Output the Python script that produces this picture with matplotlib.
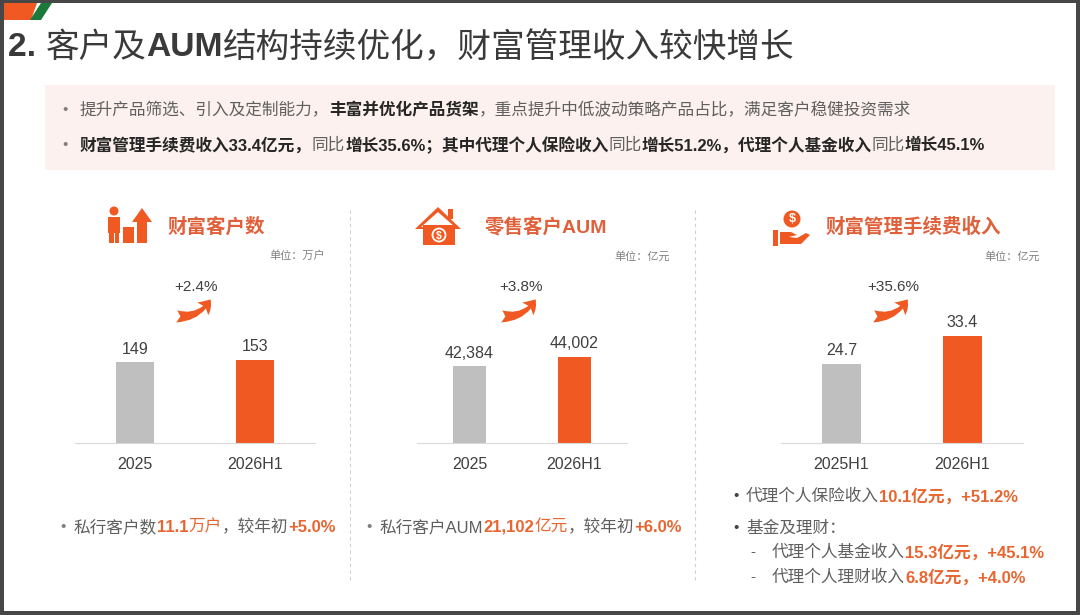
import numpy as np
import matplotlib
matplotlib.use("Agg")
import matplotlib.pyplot as plt
from matplotlib.patches import Rectangle, Polygon, Circle, FancyArrowPatch

plt.rcParams['font.family'] = ['Liberation Sans', 'Noto Sans CJK SC', 'DejaVu Sans']

# ---- data ----
cust_cats = ['2025', '2026H1']
cust_vals = [149, 153]
aum_cats = ['2025', '2026H1']
aum_vals = [42384, 44002]
fee_cats = ['2025H1', '2026H1']
fee_vals = [24.7, 33.4]
growth = ['+2.4%', '+3.8%', '+35.6%']
units = ['单位：万户', '单位：亿元', '单位：亿元']
titles = ['财富客户数', '零售客户AUM', '财富管理手续费收入']

W, H = 1080, 615
ORANGE = '#f05a22'
TORANGE = '#e8652f'
GRAY_BAR = '#bfbfbf'
TXT = '#404040'
SOFT = '#5f5f5f'
DARK = '#262626'

fig = plt.figure(figsize=(W / 100, H / 100), dpi=100, facecolor='#474747')
ax = fig.add_axes([0, 0, 1, 1])
ax.set_xlim(0, W)
ax.set_ylim(H, 0)
ax.axis('off')
r = fig.canvas.get_renderer()

# frame + logo
ax.add_patch(Rectangle((4, 3), 1072, 608, facecolor='white', edgecolor='none'))
ax.add_patch(Polygon([(4, 3), (37, 3), (31, 20), (4, 20)], closed=True, color=ORANGE, lw=0))
ax.add_patch(Polygon([(41, 3), (52, 3), (41, 20), (30, 20)], closed=True, color='#1a7a3c', lw=0))


def runs(x, y, parts, size):
    # draw a row of text pieces one after another
    for txt, color, weight in parts:
        t = ax.text(x, y, txt, color=color, fontsize=size, fontweight=weight,
                    ha='left', va='center')
        x += t.get_window_extent(renderer=r).width
    return x


# title
runs(8, 48, [('2. ', '#3a3a3a', 'bold'), ('客户及', '#3a3a3a', 'medium'),
             ('AUM', '#3a3a3a', 'bold'), ('结构持续优化，财富管理收入较快增长', '#3a3a3a', 'medium')], 24.2)

# pink box
ax.add_patch(Rectangle((45, 85), 1010, 85, facecolor='#fcf1ee', edgecolor='none'))
ax.text(62, 110, '•', color='#7f7f7f', fontsize=11, va='center')
runs(80, 110, [('提升产品筛选、引入及定制能力，', SOFT, 'normal'),
               ('丰富并优化产品货架', DARK, 'bold'),
               ('，重点提升中低波动策略产品占比，满足客户稳健投资需求', SOFT, 'normal')], 12)
ax.text(62, 145, '•', color='#7f7f7f', fontsize=11, va='center')
runs(80, 145, [('财富管理手续费收入33.4亿元，', DARK, 'bold'), ('同比', SOFT, 'normal'),
               ('增长35.6%；其中代理个人保险收入', DARK, 'bold'), ('同比', SOFT, 'normal'),
               ('增长51.2%，代理个人基金收入', DARK, 'bold'), ('同比', SOFT, 'normal'),
               ('增长45.1%', DARK, 'bold')], 12)

# dashed dividers
for xd in (350, 695):
    ax.plot([xd, xd], [210, 580], color='#d0d0d0', lw=0.8, ls=(0, (3, 3)))

# ---- icons ----
# panel 1: person, bar, arrow
ax.add_patch(Circle((114, 211), 4.5, color=ORANGE, lw=0))
ax.add_patch(Rectangle((108, 216.5), 12, 16, color=ORANGE, lw=0))
ax.add_patch(Rectangle((109, 231), 4.5, 12, color=ORANGE, lw=0))
ax.add_patch(Rectangle((114.5, 231), 4.5, 12, color=ORANGE, lw=0))
ax.add_patch(Rectangle((123, 227), 11, 16, color=ORANGE, lw=0))
ax.add_patch(Polygon([(137, 243), (137, 222), (132, 222), (142, 208), (152, 222), (147, 222), (147, 243)],
                     closed=True, color=ORANGE, lw=0))
# panel 2: house with coin
ax.add_patch(Polygon([(415, 229), (438, 207), (461, 229)], closed=True, color=ORANGE, lw=0))
ax.add_patch(Polygon([(421, 227), (438, 212), (455, 227)], closed=True, color='white', lw=0))
ax.add_patch(Rectangle((448, 209), 5, 10, color=ORANGE, lw=0))
ax.add_patch(Rectangle((423, 225), 32, 20, color=ORANGE, lw=0))
ax.add_patch(Circle((439, 235), 6.5, facecolor=ORANGE, edgecolor='white', lw=1.3))
ax.text(439, 235.5, '$', color='white', fontsize=7.5, fontweight='bold', ha='center', va='center')
# panel 3: hand with coin
ax.add_patch(Circle((792, 219), 8.5, color=ORANGE, lw=0))
ax.text(792, 219.5, '$', color='white', fontsize=9, fontweight='bold', ha='center', va='center')
ax.add_patch(Rectangle((773, 230), 5, 16, color=ORANGE, lw=0))
ax.add_patch(Polygon([(780, 232), (791, 232), (797, 235), (789, 237), (797, 238), (806, 233),
                      (810, 235), (801, 244), (780, 244)], closed=True, color=ORANGE, lw=0))

# panel headers
head_x = [168, 485, 826]
unit_x = [325, 670, 1040]
grow_x = [196, 521, 893]
for i in range(3):
    ax.text(head_x[i], 227, titles[i], color='#e0603a', fontsize=14, fontweight='bold', va='center')
    ax.text(unit_x[i], 256, units[i], color='#808080', fontsize=8, ha='right', va='center')
    ax.text(grow_x[i], 287, growth[i], color=TXT, fontsize=11, ha='center', va='center')
    arr = FancyArrowPatch((grow_x[i] - 22, 316), (grow_x[i] + 16, 297),
                          connectionstyle='arc3,rad=0.35',
                          arrowstyle='fancy,head_length=0.55,head_width=0.75,tail_width=0.55',
                          mutation_scale=16, color=ORANGE, lw=0)
    ax.add_patch(arr)


# ---- bar charts ----
def px_axes(x0, y0, x1, y1):
    return fig.add_axes([x0 / W, 1 - y1 / H, (x1 - x0) / W, (y1 - y0) / H])


def bars(box, cats, vals, ylim, fmt):
    b = px_axes(*box)
    b.patch.set_alpha(0)
    rects = b.bar(range(len(cats)), vals, width=0.32, color=[GRAY_BAR, ORANGE])
    b.bar_label(rects, labels=[fmt.format(v) for v in vals], padding=4, fontsize=11.5, color=TXT)
    b.set_xlim(-0.5, 1.5)
    b.set_ylim(*ylim)
    b.set_xticks(range(len(cats)), cats)
    b.tick_params(axis='x', length=0, pad=10, labelsize=11.5, labelcolor=TXT)
    b.set_yticks([])
    for s in ('top', 'right', 'left'):
        b.spines[s].set_visible(False)
    b.spines['bottom'].set_color('#d9d9d9')
    return b


bars((75, 300, 315, 443), cust_cats, cust_vals, (0, 263.6), '{:d}')
bars((417, 300, 627, 443), aum_cats, aum_vals, (29300, 53750), '{:,d}')
bars((781, 300, 1023, 443), fee_cats, fee_vals, (0, 44.6), '{:.1f}')

# ---- bottom notes ----
ax.text(60, 527, '•', color='#7f7f7f', fontsize=11, va='center')
runs(74, 527, [('私行客户数', SOFT, 'normal'), ('11.1', TORANGE, 'bold'), ('万户', TORANGE, 'normal'),
               ('，较年初', SOFT, 'normal'), ('+5.0%', TORANGE, 'bold')], 12)
ax.text(366, 527, '•', color='#7f7f7f', fontsize=11, va='center')
runs(380, 527, [('私行客户AUM', SOFT, 'normal'), ('21,102', TORANGE, 'bold'), ('亿元', TORANGE, 'normal'),
                ('，较年初', SOFT, 'normal'), ('+6.0%', TORANGE, 'bold')], 12)

ax.text(733, 496, '•', color='#404040', fontsize=11, va='center')
runs(746, 496, [('代理个人保险收入', SOFT, 'normal'), ('10.1亿元，+51.2%', TORANGE, 'bold')], 12)
ax.text(733, 528, '•', color='#404040', fontsize=11, va='center')
runs(746, 528, [('基金及理财：', SOFT, 'normal')], 12)
ax.text(750, 552, '-', color=SOFT, fontsize=11, va='center')
runs(772, 552, [('代理个人基金收入', SOFT, 'normal'), ('15.3亿元，+45.1%', TORANGE, 'bold')], 12)
ax.text(750, 577, '-', color=SOFT, fontsize=11, va='center')
runs(772, 577, [('代理个人理财收入', SOFT, 'normal'), ('6.8亿元，+4.0%', TORANGE, 'bold')], 12)

fig.savefig('out.png', dpi=100, facecolor=fig.get_facecolor())
